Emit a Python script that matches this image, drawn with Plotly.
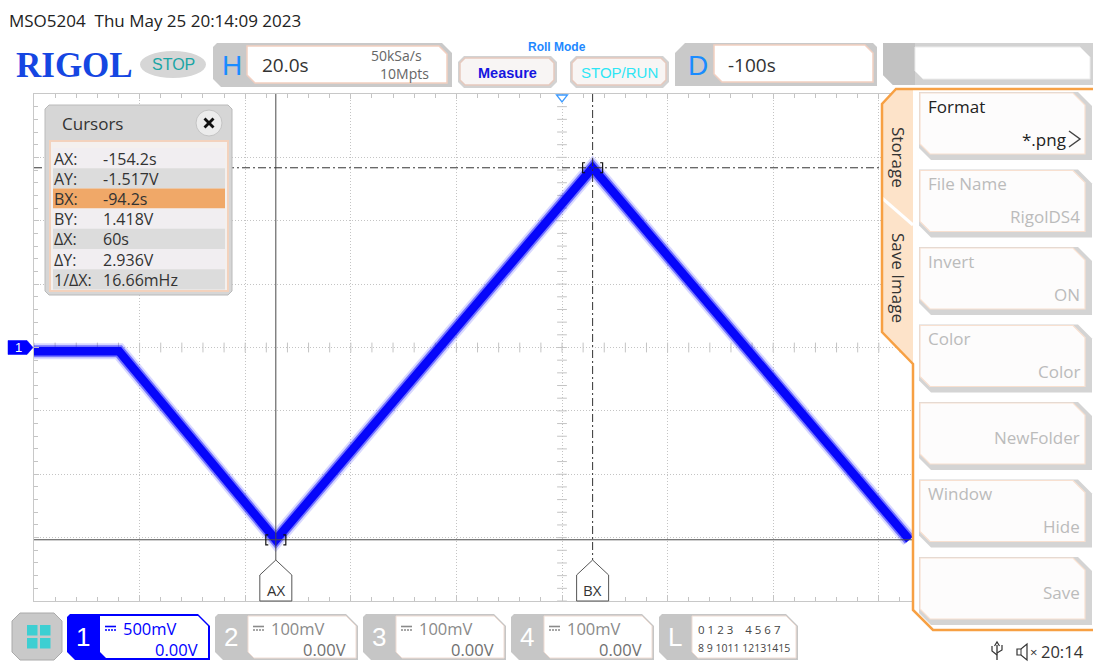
import numpy as np
import plotly.graph_objects as go

W, H = 1093, 662

# ---- acquisition settings ----
t_div = 20.0        # s/div
delay = -100.0      # s, horizontal delay (screen centre)
h_divs = 10
v_div = 0.5         # V/div, channel 1
v_divs = 8
ch1_offset = 0.0

# ---- channel 1 waveform breakpoints (s, V) ----
t_pts = [-200.0, -183.9, -154.2, -94.2, -34.2]
v_pts = [-0.03, -0.03, -1.517, 1.418, -1.517]

# ---- cursors ----
ax_t, ay_v = -154.2, -1.517
bx_t, by_v = -94.2, 1.418
cursor_labels = ["AX:", "AY:", "BX:", "BY:", "ΔX:", "ΔY:", "1/ΔX:"]
cursor_values = ["-154.2s", "-1.517V", "-94.2s", "1.418V", "60s", "2.936V", "16.66mHz"]
cursor_row_fill = ["#f1eef1", "#dcdcdc", "#f0a868", "#f1eef1", "#dcdcdc", "#f1eef1", "#dcdcdc"]

# ---- soft menu ----
menu_titles = ["Format", "File Name", "Invert", "Color", "", "Window", ""]
menu_values = ["*.png", "RigolDS4", "ON", "Color", "NewFolder", "Hide", "Save"]
menu_active = [True, False, False, False, False, False, False]

# ---- channel strip ----
ch_names = ["1", "2", "3", "4"]
ch_scales = ["500mV", "100mV", "100mV", "100mV"]
ch_offsets = ["0.00V", "0.00V", "0.00V", "0.00V"]
la_line1 = "0 1 2 3\u00a0\u00a0\u00a0\u00a04 5 6 7"
la_line2 = "8 9 1011 12131415"

t_min = delay - h_divs / 2 * t_div
t_max = delay + h_divs / 2 * t_div
v_min = ch1_offset - v_divs / 2 * v_div
v_max = ch1_offset + v_divs / 2 * v_div

# graticule frame on screen (px)
GX0, GX1, GY0, GY1 = 34, 1090, 94, 601
SX = (t_max - t_min) / (GX1 - GX0)   # s per px
SY = (v_max - v_min) / (GY1 - GY0)   # V per px

UI = "Open Sans"
ARIAL = "Liberation Sans"
GRID = "#c4c4c4"

S = []   # shapes
A = []   # annotations


def chamfer(x0, y0, x1, y1, tl=0, tr=0, br=0, bl=0):
    pts = [(x0 + tl, y0), (x1 - tr, y0), (x1, y0 + tr), (x1, y1 - br),
           (x1 - br, y1), (x0 + bl, y1), (x0, y1 - bl), (x0, y0 + tl)]
    return "M " + " L ".join(f"{x:.2f},{y:.2f}" for x, y in pts) + " Z"


def box(x0, y0, x1, y1, fill, line=None, lw=1.0, **ch):
    S.append(dict(type="path", xref="x2", yref="y2", layer="above",
                  path=chamfer(x0, y0, x1, y1, **ch), fillcolor=fill,
                  line=dict(color=line or "rgba(0,0,0,0)", width=lw if line else 0)))


def path(p, color, width=1.0, fill="rgba(0,0,0,0)", xref="x2", yref="y2", dash="solid"):
    S.append(dict(type="path", xref=xref, yref=yref, layer="above", path=p,
                  fillcolor=fill, line=dict(color=color, width=width, dash=dash)))


def seg(x0, y0, x1, y1, color, width=1.0, xref="x2", yref="y2", dash="solid"):
    S.append(dict(type="line", xref=xref, yref=yref, layer="above",
                  x0=x0, y0=y0, x1=x1, y1=y1, line=dict(color=color, width=width, dash=dash)))


def txt(x, y, s, size, color, xa="left", fam=UI, angle=0, align="left"):
    A.append(dict(x=x, y=y, xref="x2", yref="y2", text=s, showarrow=False,
                  xanchor=xa, yanchor="middle", textangle=angle, borderpad=0, align=align,
                  font=dict(size=size, color=color, family=fam)))


fig = go.Figure()

# centre-line graticule ticks
fig.add_trace(go.Scatter(
    x=np.arange(t_min, t_max + 1e-9, t_div / 5), y=np.full(int(h_divs * 5) + 1, ch1_offset),
    mode="markers", marker=dict(symbol="line-ns", size=7, line=dict(color=GRID, width=1)),
    hoverinfo="skip", showlegend=False))
fig.add_trace(go.Scatter(
    x=np.full(int(v_divs * 5) + 1, delay), y=np.arange(v_min, v_max + 1e-9, v_div / 5),
    mode="markers", marker=dict(symbol="line-ew", size=7, line=dict(color=GRID, width=1)),
    hoverinfo="skip", showlegend=False))

# channel 1 trace, drawn as a soft phosphor band
for w, col in [(16, "rgba(40,40,255,0.18)"), (12, "rgba(15,15,255,0.5)"), (8.5, "#0606fa")]:
    fig.add_trace(go.Scatter(x=t_pts, y=v_pts, mode="lines",
                             line=dict(color=col, width=w), hoverinfo="skip", showlegend=False))

# pixel-space layer for the instrument chrome
fig.add_trace(go.Scatter(x=[None], y=[None], xaxis="x2", yaxis="y2",
                         hoverinfo="skip", showlegend=False))

# ---- cursors ----
seg(ax_t, GY0, ax_t, 560, "#4a4a4a", 1, xref="x")
seg(bx_t, GY0, bx_t, 560, "#333333", 1, xref="x", dash="8px,3px,2px,3px")
seg(GX0, ay_v, GX1, ay_v, "#4a4a4a", 1, yref="y")
seg(GX0, by_v, GX1, by_v, "#333333", 1, yref="y", dash="8px,3px,2px,3px")

for ct, cv in [(ax_t, ay_v), (bx_t, by_v)]:
    dx, dy = 10 * SX, 5 * SY
    for sgn in (-1, 1):
        xa = ct + sgn * dx
        xb = ct + sgn * (dx - 2.5 * SX)
        path(f"M {xb},{cv + dy} L {xa},{cv + dy} L {xa},{cv - dy} L {xb},{cv - dy}",
             "#111111", 1.2, xref="x", yref="y")

for ct, lab in [(ax_t, "AX"), (bx_t, "BX")]:
    hw = 16 * SX
    path(f"M {ct},560 L {ct + hw},575 L {ct + hw},601 L {ct - hw},601 L {ct - hw},575 Z",
         "#555555", 1, fill="#ffffff", xref="x")
    A.append(dict(x=ct, y=590, xref="x", yref="y2", text=lab, showarrow=False,
                  xanchor="center", yanchor="middle", font=dict(size=15, color="#333", family=UI)))

# trigger position marker
hw = 5.5 * SX
path(f"M {delay - hw},95 L {delay + hw},95 L {delay},102 Z", "#3d9bff", 1.3, fill="#ffffff", xref="x")

# channel 1 ground marker
mh = 7 * SY
path(f"M 8,{ch1_offset - mh} L 27,{ch1_offset - mh} L 33,{ch1_offset} L 27,{ch1_offset + mh} L 8,{ch1_offset + mh} Z",
     "#0000ff", 0.5, fill="#0000ff", yref="y")
A.append(dict(x=18, y=ch1_offset, xref="x2", yref="y", text="1", showarrow=False, borderpad=0,
              font=dict(size=13, color="#ffffff", family=ARIAL)))

# ---- cursor readout window ----
box(45, 105, 232, 295, "#d6d6d6", line="#bababa", lw=1, tl=4, tr=4, br=4, bl=4)
box(50, 141, 228, 291, "#f4f0ee", line="#f3d2bd", lw=2)
for i, (lab, val) in enumerate(zip(cursor_labels, cursor_values)):
    y0 = 148 + i * 20.2
    box(53, y0, 225, y0 + 20.2, cursor_row_fill[i])
    txt(53, y0 + 10.5, lab, 16, "#333333")
    txt(102, y0 + 10.5, val, 16, "#333333")
txt(61, 123, "Cursors", 17, "#333333")
S.append(dict(type="circle", xref="x2", yref="y2", layer="above", x0=196, x1=222, y0=110, y1=136,
              fillcolor="#ececec", line=dict(color="#c4c4c4", width=1)))
seg(204.5, 118.5, 213.5, 127.5, "#111111", 2.8)
seg(204.5, 127.5, 213.5, 118.5, "#111111", 2.8)

# ---- right-hand soft menu ----
panel = "M 1093,89 L 896,89 L 882,104 L 882,332 L 913,364 L 913,610 L 933,630 L 1093,630"
path(panel + " Z", "rgba(0,0,0,0)", 0, fill="#ffffff")
path("M 913,89 L 896,89 L 882,104 L 882,332 L 913,364 Z", "rgba(0,0,0,0)", 0, fill="#fde3c9")
seg(882, 198, 913, 225, "#ffffff", 3)
path(panel, "#f7a043", 2.5)
txt(899, 157, "Storage", 17, "#333333", "center", angle=90)
txt(899, 278, "Save Image", 17, "#333333", "center", angle=90)

for i, (tt, vv) in enumerate(zip(menu_titles, menu_values)):
    y0 = 92 + i * 77.5
    box(919, y0, 1092, y0 + 68, "#d4d4d4", tr=14, bl=12)
    box(920, y0 + 1, 1085, y0 + 62, "#fdfcfc", line="#f8e0d0", lw=1.2, tr=12, bl=10)
    col = "#222222" if menu_active[i] else "#bbbbbb"
    if tt:
        txt(927, y0 + 14, tt, 17, col)
        vy = y0 + 47
    else:
        vy = y0 + 35
    if menu_active[i]:
        txt(1067, vy, vv, 17, col, "right")
        path(f"M 1069,{vy - 8} L 1080,{vy} L 1069,{vy + 8}", "#444444", 1.5)
    else:
        txt(1081, vy, vv, 17, col, "right")

# ---- top status bar ----
txt(8, 20, "MSO5204\u00a0\u00a0Thu May 25 20:14:09 2023", 17, "#222222")
txt(15, 65, "<b>RIGOL</b>", 35, "#1546e2", fam="Liberation Serif")
S.append(dict(type="circle", xref="x2", yref="y2", layer="above", x0=140, x1=206, y0=51, y1=78,
              fillcolor="#d6d6d6", line=dict(width=0)))
txt(173, 64.5, "STOP", 16, "#1aa5a5", "center", ARIAL)

box(213, 43, 452, 87, "#c9c9c9", tl=4, tr=10, bl=8)
box(247, 46, 447, 83, "#ffffff", line="#f2cfc0", lw=1.5, tr=8, bl=8)
txt(232, 65, "H", 28, "#1a8cff", "center", ARIAL)
txt(261, 65, "20.0s", 19, "#333333")
txt(430, 64.5, "50kSa/s\u00a0\u00a0<br>10Mpts", 14, "#666666", "right", align="right")

txt(557, 47, "<b>Roll Mode</b>", 12, "#1e88ff", "center", ARIAL)
for x0, label, col in [(460, "<b>Measure</b>", "#1515e0"), (572, "STOP/RUN", "#2ee6f5")]:
    box(x0 - 2, 56, x0 + 97, 88, "#d2d2d2", tl=6, tr=6, br=6, bl=6)
    box(x0, 58, x0 + 94, 85, "#f8f5f4", line="#e6c9bd", lw=1.5, tl=5, tr=5, br=5, bl=5)
    txt(x0 + 47, 72.5, label, 14.5 if "Measure" in label else 15, col, "center", ARIAL)

box(675, 43, 877, 86, "#c9c9c9", tl=10, tr=4)
box(714, 45, 873, 82, "#ffffff", line="#f2cfc0", lw=1.5, tr=8, bl=8)
txt(698, 65, "D", 28, "#1a8cff", "center", ARIAL)
txt(727, 65, "-100s", 19, "#333333")

box(883, 43, 1093, 85, "#d2d2d2", bl=10)
box(883, 43, 915, 85, "#c2c2c2", bl=10)
box(915, 47, 1090, 79, "#ffffff", line="#ececec", lw=1, tr=10, bl=8)

# ---- bottom channel strip ----
box(12, 613, 62, 660, "#c9c9c9", line="#aaaaaa", lw=1, tl=8, tr=8, br=8, bl=8)
for cx in (27, 40):
    for cy in (625, 638):
        S.append(dict(type="rect", xref="x2", yref="y2", layer="above", x0=cx, x1=cx + 10.5,
                      y0=cy, y1=cy + 10.5, fillcolor="#3dcfd2", line=dict(width=0)))

for i, (nm, sc, off) in enumerate(zip(ch_names, ch_scales, ch_offsets)):
    x0 = 67 + i * 148
    on = i == 0
    base = "#0000ff" if on else "#c6c6c6"
    box(x0, 614, x0 + 143, 660, base, tl=3, tr=12, bl=8)
    box(x0 + 33, 616, x0 + 141, 658, "#ffffff",
        line=None if on else "#f0ddd4", lw=1, tr=10, bl=6)
    txt(x0 + 16, 637, nm, 26, "#ffffff", "center", ARIAL)
    icol = "#0000ff" if on else "#8a8a8a"
    seg(x0 + 38, 626.5, x0 + 49, 626.5, icol, 1.6)
    seg(x0 + 38, 630, x0 + 49, 630, icol, 1.6, dash="2px,1px")
    txt(x0 + 55, 628.5, sc, 16.5, "#0000ff" if on else "#8a8a8a")
    txt(x0 + 132, 649.5, off, 16.5, "#0000ff" if on else "#707070", "right")

box(659, 614, 798, 660, "#c6c6c6", tl=3, tr=12, bl=8)
box(692, 616, 796, 658, "#ffffff", line="#f0ddd4", lw=1, tr=10, bl=6)
txt(675, 637, "L", 26, "#ffffff", "center", ARIAL)
txt(697, 629, la_line1, 11.5, "#444444")
txt(697, 648, la_line2, 10.5, "#444444")

# status icons
seg(997, 645, 997, 660, "#333333", 1.3)
path("M 992,646 L 992,651 L 997,655", "#333333", 1.2)
path("M 1002,645 L 1002,650 L 997,653", "#333333", 1.2)
path("M 994.5,646 L 997,642 L 999.5,646", "#333333", 1.2)
path("M 1017,649 L 1021,649 L 1027,644 L 1027,660 L 1021,655 L 1017,655 Z", "#333333", 1.2)
seg(1021, 649, 1021, 655, "#333333", 1.0)
txt(1029, 652, "×", 13, "#333333")
txt(1040, 651, "20:14", 16.5, "#333333")

fig.update_layout(
    width=W, height=H, margin=dict(l=0, r=0, t=0, b=0),
    paper_bgcolor="#ffffff", plot_bgcolor="rgba(0,0,0,0)",
    showlegend=False, shapes=S, annotations=A,
    xaxis=dict(domain=[GX0 / W, GX1 / W], range=[t_min, t_max], anchor="y",
               tick0=t_min, dtick=t_div, showgrid=True, gridcolor=GRID, griddash="1px,2px",
               showline=True, linecolor="#c8c8c8", linewidth=1, mirror="allticks",
               ticks="inside", ticklen=5, tickcolor=GRID, showticklabels=False, zeroline=False,
               minor=dict(tick0=t_min, dtick=t_div / 5, ticks="inside", ticklen=4, tickcolor=GRID,
                          showgrid=False),
               fixedrange=True),
    yaxis=dict(domain=[1 - GY1 / H, 1 - GY0 / H], range=[v_min, v_max], anchor="x",
               tick0=v_min, dtick=v_div, showgrid=True, gridcolor=GRID, griddash="1px,2px",
               showline=True, linecolor="#c8c8c8", linewidth=1, mirror="allticks",
               ticks="inside", ticklen=5, tickcolor=GRID, showticklabels=False, zeroline=False,
               minor=dict(tick0=v_min, dtick=v_div / 5, ticks="inside", ticklen=4, tickcolor=GRID,
                          showgrid=False),
               fixedrange=True),
    xaxis2=dict(domain=[0, 1], range=[0, W], visible=False, anchor="y2", fixedrange=True),
    yaxis2=dict(domain=[0, 1], range=[H, 0], visible=False, anchor="x2", fixedrange=True),
)

fig.write_html("out.html", config={"displayModeBar": False})
